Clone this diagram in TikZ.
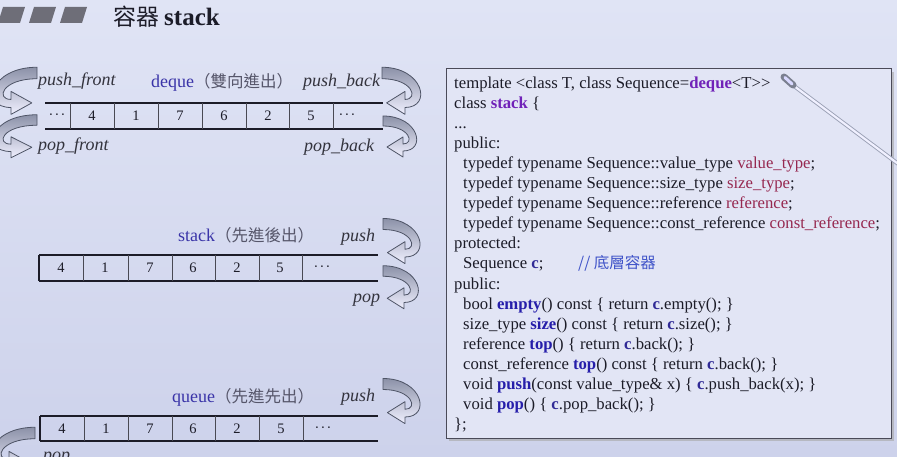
\documentclass[tikz,border=0pt]{standalone}
\usepackage{fontspec}
\setmainfont{Liberation Serif}
\newfontfamily\cjk{Noto Sans CJK TC}
\usetikzlibrary{shadows}

\definecolor{bgtop}{HTML}{E0E4F5}
\definecolor{bgbot}{HTML}{CDD2EB}
\definecolor{ink}{HTML}{1C1C28}
\definecolor{kwpurple}{RGB}{112,34,184}
\definecolor{tymaroon}{RGB}{150,40,80}
\definecolor{fnblue}{RGB}{38,30,170}
\definecolor{cmblue}{RGB}{62,82,200}
\definecolor{cvar}{RGB}{48,42,150}
\definecolor{lblblue}{RGB}{58,52,168}
\definecolor{cjkgray}{HTML}{56566A}
\definecolor{bandgray}{HTML}{8C92A8}
\definecolor{bandline}{HTML}{4E5466}
\definecolor{boxfill}{HTML}{E2E5F5}
\definecolor{boxline}{HTML}{4A4A58}
\definecolor{markgray}{HTML}{6E6E78}
\definecolor{rodedge}{HTML}{9AA0B4}

\newcommand\codekw[1]{\textcolor{kwpurple}{\textbf{#1}}}
\newcommand\codety[1]{\textcolor{tymaroon}{#1}}
\newcommand\codefn[1]{\textcolor{fnblue}{\textbf{#1}}}
\newcommand\codec{\textcolor{cvar}{\textbf{c}}}
\newcommand\celldots{\textperiodcentered\kern1.2pt\textperiodcentered\kern1.2pt\textperiodcentered}

\tikzset{
  rail/.style={line width=2pt, draw=ink},
  cellsep/.style={line width=0.9pt, draw=ink!80},
  cellval/.style={font=\fontsize{14.5}{14}\selectfont, text=ink, inner sep=0pt},
  oplabel/.style={font=\fontsize{18}{18}\selectfont\itshape, text=ink!90, inner sep=0pt, anchor=base west},
  kindlabel/.style={font=\fontsize{18}{18}\selectfont, text=lblblue, inner sep=0pt, anchor=base west},
  codeline/.style={font=\fontsize{16.7}{20}\selectfont, text=ink, inner sep=0pt, anchor=base west},
  codebox/.style={draw=boxline, line width=1pt, fill=boxfill, inner sep=0pt,
    minimum width=445pt, minimum height=369pt,
    drop shadow={shadow xshift=3pt, shadow yshift=-3pt, fill=black!35, opacity=0.6}},
  arrowband/.style={draw=bandline, line width=0.8pt, line join=round,
    top color=bandgray, bottom color=white!94!blue},
  bendarrow/.pic={
    \path[arrowband] (0,-5) .. controls (36,-5) and (44,30) .. (20,30)
      -- (20,36) -- (4,26) -- (20,16) -- (20,23)
      .. controls (32,23) and (27,5) .. (0,5) -- cycle;
  }
}

\begin{document}
\begin{tikzpicture}[x=1pt,y=-1pt]
\useasboundingbox (0,0) rectangle (897,457);
\clip (0,0) rectangle (897,457);
\shade[top color=bgtop, bottom color=bgbot] (0,0) rectangle (897,457);

% heading
\foreach \x in {-2,29,60}
  \fill[markgray] (\x,23) -- (\x+22,23) -- (\x+27,7) -- (\x+5,7) -- cycle;
\node[anchor=base west, inner sep=0pt, text=ink] (title) at (113,26)
  {{\cjk\fontsize{23}{23}\selectfont 容器}\hspace{5pt}{\fontsize{25}{25}\selectfont\textbf{stack}}};

% ---- deque: open at both ends
\draw[rail] (45,103) -- (383,103);
\draw[rail] (45,129) -- (383,129);
\foreach \x in {70,114,158,202,246,289,333}
  \draw[cellsep] (\x,103) -- (\x,129);
\node[cellval] (d0) at (57,117) {\celldots};
\node[cellval] (d1) at (92,116) {4};
\node[cellval] (d2) at (136,116) {1};
\node[cellval] (d3) at (180,116) {7};
\node[cellval] (d4) at (224,116) {6};
\node[cellval] (d5) at (268,116) {2};
\node[cellval] (d6) at (311,116) {5};
\node[cellval] (d7) at (347,117) {\celldots};

\node[oplabel] (pushfront) at (38,86) {push\_front};
\node[oplabel] (pushback) at (303,87) {push\_back};
\node[oplabel] (popfront) at (38,151) {pop\_front};
\node[oplabel] (popback) at (304,152) {pop\_back};
\node[kindlabel] (dequelbl) at (151,88) {deque{\cjk\fontsize{16.5}{16}\selectfont\color{cjkgray}（雙向進出）}};

\pic[xscale=-1.3, yscale=1.15] at (37,73) {bendarrow};
\pic[xscale=-1.3, yscale=1.05] at (37,120) {bendarrow};
\pic[scale=1.15] at (382,73) {bendarrow};
\pic[scale=1.0] at (383,121) {bendarrow};

% ---- stack: closed on the left
\draw[rail] (39,255) -- (378,255);
\draw[rail] (39,281) -- (378,281);
\draw[line width=1.6pt, draw=ink] (39,255) -- (39,281);
\foreach \x in {83,128,172,215,259,302}
  \draw[cellsep] (\x,255) -- (\x,281);
\node[cellval] (s1) at (61,268) {4};
\node[cellval] (s2) at (105,268) {1};
\node[cellval] (s3) at (150,268) {7};
\node[cellval] (s4) at (193,268) {6};
\node[cellval] (s5) at (237,268) {2};
\node[cellval] (s6) at (280,268) {5};
\node[cellval] (s7) at (322,269) {\celldots};

\node[kindlabel] (stacklbl) at (178,242) {stack{\cjk\fontsize{16.5}{16}\selectfont\color{cjkgray}（先進後出）}};
\node[oplabel] (spush) at (341,241) {push};
\node[oplabel] (spop) at (353,302) {pop};
\pic[scale=1.1] at (383,224) {bendarrow};
\pic[scale=1.05] at (383,271) {bendarrow};

% ---- queue: closed on the left
\draw[rail] (40,416) -- (378,416);
\draw[rail] (40,441) -- (378,441);
\draw[line width=1.6pt, draw=ink] (40,416) -- (40,441);
\foreach \x in {84,128,172,215,259,303}
  \draw[cellsep] (\x,416) -- (\x,441);
\node[cellval] (q1) at (62,428.5) {4};
\node[cellval] (q2) at (106,428.5) {1};
\node[cellval] (q3) at (150,428.5) {7};
\node[cellval] (q4) at (193,428.5) {6};
\node[cellval] (q5) at (237,428.5) {2};
\node[cellval] (q6) at (281,428.5) {5};
\node[cellval] (q7) at (323,429.5) {\celldots};

\node[kindlabel] (queuelbl) at (172,402) {queue{\cjk\fontsize{16.5}{16}\selectfont\color{cjkgray}（先進先出）}};
\node[oplabel] (qpush) at (341,401) {push};
\node[oplabel] (qpop) at (43,460) {pop};
\pic[scale=1.1] at (383,384) {bendarrow};
\pic[xscale=-1.3, yscale=1.15] at (35,433) {bendarrow};

% ---- class stack source
\node[codebox] (code) at (668.5,253.5) {};
\node[codeline] (l1) at (454,89) {template <class T, class Sequence=\codekw{deque}<T>\kern0pt>};
\node[codeline] (l2) at (454,109) {class \codekw{stack} \{};
\node[codeline] (l3) at (454,129) {...};
\node[codeline] (l4) at (454,149) {public:};
\node[codeline] (l5) at (463,169) {typedef typename Sequence::value\_type \codety{value\_type};};
\node[codeline] (l6) at (463,189) {typedef typename Sequence::size\_type \codety{size\_type};};
\node[codeline] (l7) at (463,209) {typedef typename Sequence::reference \codety{reference};};
\node[codeline] (l8) at (463,229) {typedef typename Sequence::const\_reference \codety{const\_reference};};
\node[codeline] (l9) at (454,249) {protected:};
\node[codeline] (l10) at (463,269) {Sequence \codec;};
\node[codeline, font=\cjk\fontsize{15.5}{20}\selectfont, text=cmblue] (l10c) at (578,269) {// 底層容器};
\node[codeline] (l11) at (454,289) {public:};
\node[codeline] (l12) at (463,309) {bool \codefn{empty}() const \{ return \codec.empty(); \}};
\node[codeline] (l13) at (463,329) {size\_type \codefn{size}() const \{ return \codec.size(); \}};
\node[codeline] (l14) at (463,349) {reference \codefn{top}() \{ return \codec.back(); \}};
\node[codeline] (l15) at (463,369) {const\_reference \codefn{top}() const \{ return \codec.back(); \}};
\node[codeline] (l16) at (463,389) {void \codefn{push}(const value\_type\& x) \{ \codec.push\_back(x); \}};
\node[codeline] (l17) at (463,409) {void \codefn{pop}() \{ \codec.pop\_back(); \}};
\node[codeline] (l18) at (454,429) {\};};

% pointer rod resting over the listing
\draw[line width=4pt, draw=rodedge, line cap=round] (790,83) -- (905,169);
\draw[line width=2.2pt, draw=white!94!blue] (790,83) -- (905,169);
\draw[line width=7pt, draw=rodedge!80!black, line cap=round] (784,77) -- (793,85);
\draw[line width=3pt, draw=white!85!blue, line cap=round] (785,77.5) -- (792,84);
\end{tikzpicture}
\end{document}
